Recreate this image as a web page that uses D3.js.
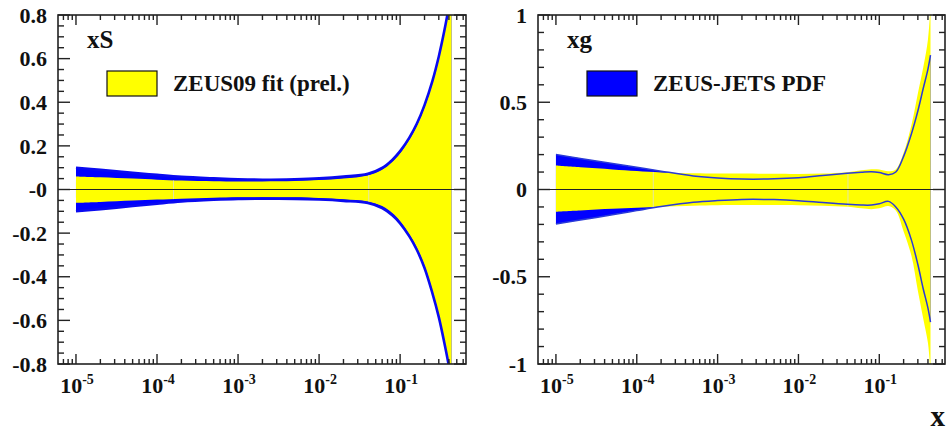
<!DOCTYPE html>
<html>
<head>
<meta charset="utf-8">
<script src="https://cdn.jsdelivr.net/npm/d3@7"></script>
<style>
  html, body { margin: 0; padding: 0; background: #fff; }
  svg { display: block; }
  text { font-family: "Liberation Serif", "Times New Roman", "DejaVu Serif", serif; font-weight: bold; fill: #111; }
</style>
</head>
<body>
<svg id="chart" width="951" height="433"></svg>
<script>
// Shared momentum-fraction grid for all bands
const xGrid = [1e-5, 2e-5, 5e-5, 1e-4, 2e-4, 5e-4, 1e-3, 2e-3, 5e-3, 0.01, 0.02, 0.04,
               0.06, 0.08, 0.1, 0.13, 0.16, 0.2, 0.25, 0.3, 0.35, 0.4, 0.43];

// Sea-quark distribution xS: uncertainty bands
const xsFitUp  = [0.060, 0.056, 0.050, 0.045, 0.041, 0.038, 0.037, 0.037, 0.039, 0.043, 0.050, 0.064,
                  0.090, 0.126, 0.166, 0.228, 0.290, 0.377, 0.487, 0.600, 0.715, 0.830, 0.950];
const xsFitLo  = [-0.061, -0.057, -0.051, -0.046, -0.042, -0.038, -0.036, -0.035, -0.036, -0.039, -0.045, -0.055,
                  -0.076, -0.108, -0.145, -0.205, -0.265, -0.350, -0.465, -0.575, -0.690, -0.820, -0.950];
const xsJetsUp = [0.100, 0.090, 0.077, 0.067, 0.058, 0.051, 0.047, 0.045, 0.047, 0.051, 0.059, 0.072,
                  0.099, 0.136, 0.176, 0.238, 0.300, 0.387, 0.497, 0.610, 0.725, 0.840, 0.910];
const xsJetsLo = [-0.100, -0.090, -0.076, -0.065, -0.055, -0.047, -0.043, -0.042, -0.043, -0.046, -0.052, -0.062,
                  -0.085, -0.118, -0.155, -0.215, -0.275, -0.360, -0.475, -0.585, -0.700, -0.810, -0.880];

// Gluon distribution xg: uncertainty bands
const xgFitUp  = [0.137, 0.127, 0.115, 0.106, 0.098, 0.093, 0.092, 0.092, 0.090, 0.089, 0.091, 0.099,
                  0.110, 0.116, 0.115, 0.105, 0.115, 0.210, 0.370, 0.550, 0.700, 0.860, 1.050];
const xgFitLo  = [-0.127, -0.120, -0.111, -0.105, -0.099, -0.093, -0.090, -0.089, -0.089, -0.090, -0.093, -0.099,
                  -0.108, -0.113, -0.108, -0.095, -0.120, -0.240, -0.380, -0.580, -0.740, -0.880, -1.050];
const xgJetsUp = [0.200, 0.178, 0.149, 0.127, 0.105, 0.078, 0.066, 0.060, 0.061, 0.067, 0.080, 0.093,
                  0.099, 0.102, 0.097, 0.085, 0.100, 0.190, 0.320, 0.450, 0.580, 0.690, 0.770];
const xgJetsLo = [-0.198, -0.175, -0.145, -0.121, -0.098, -0.073, -0.063, -0.057, -0.058, -0.064, -0.075, -0.085,
                  -0.089, -0.089, -0.082, -0.068, -0.100, -0.170, -0.290, -0.430, -0.570, -0.680, -0.760];

// Axes
const xDomain = [6e-6, 0.65];
const xMajorTicks = [1e-5, 1e-4, 1e-3, 1e-2, 1e-1];
const xTickExponents = ["-5", "-4", "-3", "-2", "-1"];
const xsTicks = [0.8, 0.6, 0.4, 0.2, 0, -0.2, -0.4, -0.6, -0.8];
const xsTickLabels = ["0.8", "0.6", "0.4", "0.2", "-0", "-0.2", "-0.4", "-0.6", "-0.8"];
const xgTicks = [1, 0.5, 0, -0.5, -1];
const xgTickLabels = ["1", "0.5", "0", "-0.5", "-1"];
// Segment joins of the ZEUS09 band
const bandSeams = [1.6e-4, 0.041];

const legendLabels = ["ZEUS09 fit (prel.)", "ZEUS-JETS PDF"];
const fitColor = "#ffff00";
const jetsColor = "#0000ff";

const svg = d3.select("#chart");

const panels = [
  { id: "xs", name: "xS", left: 58, right: 466, yDomain: [-0.8, 0.8], minorStep: 0.05,
    ticks: xsTicks, tickLabels: xsTickLabels,
    fitUp: xsFitUp, fitLo: xsFitLo, jetsUp: xsJetsUp, jetsLo: xsJetsLo,
    edgeWidth: 2.6, edgeColor: "#0a0af0",
    legend: { label: legendLabels[0], fill: fitColor } },
  { id: "xg", name: "xg", left: 538, right: 945, yDomain: [-1, 1], minorStep: 0.1,
    ticks: xgTicks, tickLabels: xgTickLabels,
    fitUp: xgFitUp, fitLo: xgFitLo, jetsUp: xgJetsUp, jetsLo: xgJetsLo,
    edgeWidth: 1.5, edgeColor: "#2a3ad8",
    legend: { label: legendLabels[1], fill: jetsColor } }
];

const plotTop = 15, plotBottom = 364;

// minor x ticks: 2..9 times each power of ten inside the domain
const xMinorTicks = [];
for (let e = -6; e <= 0; e++) {
  for (let k = 2; k <= 9; k++) {
    const v = k * Math.pow(10, e);
    if (v > xDomain[0] && v < xDomain[1]) xMinorTicks.push(v);
  }
}

panels.forEach(p => {
  const x = d3.scaleLog().domain(xDomain).range([p.left, p.right]);
  const y = d3.scaleLinear().domain(p.yDomain).range([plotBottom, plotTop]);
  const g = svg.append("g");

  const clipId = "clip-" + p.id;
  svg.append("clipPath").attr("id", clipId)
    .append("rect").attr("x", p.left).attr("y", plotTop)
    .attr("width", p.right - p.left).attr("height", plotBottom - plotTop);

  const rows = xGrid.map((xv, i) => ({ x: xv, fu: p.fitUp[i], fl: p.fitLo[i], ju: p.jetsUp[i], jl: p.jetsLo[i] }));
  const curve = d3.curveCatmullRom.alpha(0.5);

  const plot = g.append("g").attr("clip-path", `url(#${clipId})`);

  // ZEUS-JETS band underneath
  plot.append("path")
    .attr("d", d3.area().curve(curve).x(d => x(d.x)).y0(d => y(d.jl)).y1(d => y(d.ju))(rows))
    .attr("fill", jetsColor);

  // ZEUS09 band on top
  const fitArea = d3.area().curve(curve).x(d => x(d.x)).y0(d => y(d.fl)).y1(d => y(d.fu));
  plot.append("path").attr("d", fitArea(rows)).attr("fill", fitColor);

  // faint joins inside the ZEUS09 band
  const seamClip = "seam-" + p.id;
  svg.append("clipPath").attr("id", seamClip).append("path").attr("d", fitArea(rows));
  plot.append("g").attr("clip-path", `url(#${seamClip})`)
    .selectAll("line").data(bandSeams).join("line")
    .attr("x1", d => x(d)).attr("x2", d => x(d))
    .attr("y1", plotTop).attr("y2", plotBottom)
    .attr("stroke", "#e2e2b8").attr("stroke-width", 0.9);

  // ZEUS-JETS band edges
  ["ju", "jl"].forEach(k => {
    plot.append("path")
      .attr("d", d3.line().curve(curve).x(d => x(d.x)).y(d => y(d[k]))(rows))
      .attr("fill", "none").attr("stroke", p.edgeColor).attr("stroke-width", p.edgeWidth);
  });

  // zero line
  g.append("line").attr("x1", p.left).attr("x2", p.right)
    .attr("y1", y(0)).attr("y2", y(0))
    .attr("stroke", "#222").attr("stroke-width", 1.1);

  // frame
  g.append("rect").attr("x", p.left).attr("y", plotTop)
    .attr("width", p.right - p.left).attr("height", plotBottom - plotTop)
    .attr("fill", "none").attr("stroke", "#222").attr("stroke-width", 1.6);

  // x ticks on bottom and top, pointing inward
  const tickG = g.append("g").attr("stroke", "#222").attr("stroke-width", 1.4);
  const xt = xMajorTicks.map(v => ({ v, len: 10 })).concat(xMinorTicks.map(v => ({ v, len: 5 })));
  tickG.selectAll(".xb").data(xt).join("line")
    .attr("x1", d => x(d.v)).attr("x2", d => x(d.v))
    .attr("y1", plotBottom).attr("y2", d => plotBottom - d.len);
  tickG.selectAll(".xt").data(xt).join("line")
    .attr("x1", d => x(d.v)).attr("x2", d => x(d.v))
    .attr("y1", plotTop).attr("y2", d => plotTop + d.len);

  // y ticks on left and right
  const n = Math.round((p.yDomain[1] - p.yDomain[0]) / p.minorStep);
  const yMinor = d3.range(n + 1).map(i => p.yDomain[0] + i * p.minorStep);
  const yt = yMinor.map(v => ({
    v, len: p.ticks.some(t => Math.abs(t - v) < 1e-9) ? 12 : 6
  }));
  tickG.selectAll(".yl").data(yt).join("line")
    .attr("x1", p.left).attr("x2", d => p.left + d.len)
    .attr("y1", d => y(d.v)).attr("y2", d => y(d.v));
  tickG.selectAll(".yr").data(yt).join("line")
    .attr("x1", p.right).attr("x2", d => p.right - d.len)
    .attr("y1", d => y(d.v)).attr("y2", d => y(d.v));

  // y tick labels
  g.selectAll(".ylab").data(p.ticks).join("text")
    .attr("x", p.left - 11).attr("y", d => y(d)).attr("dy", "0.35em")
    .attr("text-anchor", "end").style("font-size", "22px")
    .text((d, i) => p.tickLabels[i]);

  // x tick labels as powers of ten
  const xl = g.selectAll(".xlab").data(xMajorTicks).join("text")
    .attr("x", d => x(d) + 1).attr("y", 393)
    .attr("text-anchor", "middle").style("font-size", "22px");
  xl.append("tspan").text("10");
  xl.append("tspan").attr("dy", -9).style("font-size", "14px")
    .text((d, i) => xTickExponents[i]);

  // distribution name
  g.append("text").attr("x", p.left + 29).attr("y", 48)
    .style("font-size", "25px").text(p.name);

  // legend
  g.append("rect").attr("x", p.left + 49).attr("y", 71)
    .attr("width", 50).attr("height", 25)
    .attr("fill", p.legend.fill).attr("stroke", "#111").attr("stroke-width", 1.2);
  g.append("text").attr("x", p.left + 115).attr("y", 91)
    .style("font-size", "23px").text(p.legend.label);
});

// common x-axis title
svg.append("text").attr("x", 945).attr("y", 426)
  .attr("text-anchor", "end").style("font-size", "29px").text("x");
</script>
</body>
</html>
